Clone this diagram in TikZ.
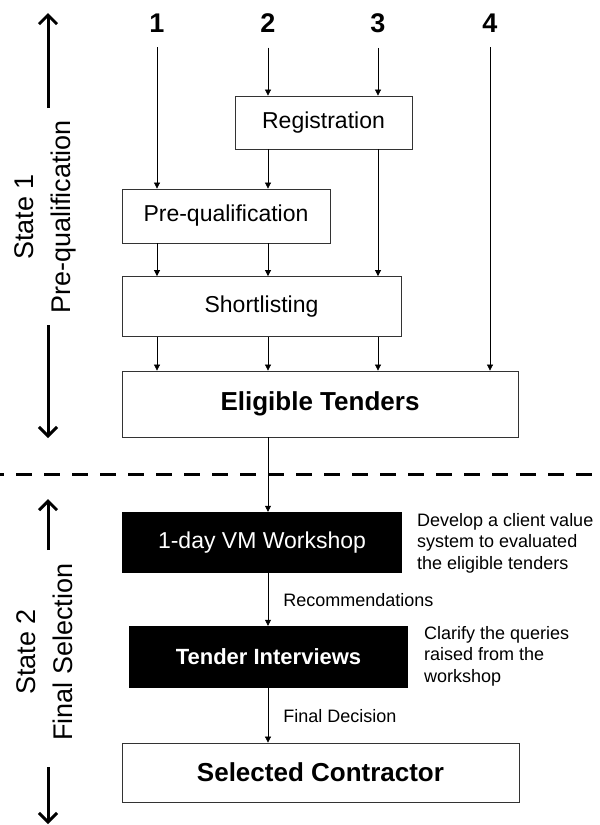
\documentclass[tikz,border=0pt]{standalone}
\usepackage{fontspec}
\setmainfont{Liberation Sans}
\usetikzlibrary{arrows.meta}
\begin{document}
\begin{tikzpicture}[
      x = 1pt, y = -1pt, % pixel units, y grows downwards
      box/.style = {draw=black!80, line width=0.8pt, inner sep=0pt, font=\fontsize{23}{27}\selectfont},
      darkbox/.style = {fill=black, text=white, inner sep=0pt, font=\fontsize{23}{27}\selectfont},
      flow/.style = {-{Triangle[length=6pt, width=6pt]}, line width=0.7pt},
      phase/.style = {-{Straight Barb[length=9pt, width=18pt, line width=3pt]}, line width=3pt},
      note/.style = {anchor=west, align=left, inner sep=0pt, font=\fontsize{18}{21.5}\selectfont},
      side/.style = {rotate=90, align=center, inner sep=0pt, font=\fontsize{27}{37}\selectfont}
  ]

\useasboundingbox (0,0) rectangle (600,825);

% tender routes
\foreach \xx/\num in {157/1, 268/2, 378/3, 490/4}{
    \node[inner sep=0pt, font=\bfseries\fontsize{27}{27}\selectfont] (n\num) at (\xx, 23) {\num};
}

% stage 1 boxes
\node[box, minimum width=177pt, minimum height=53pt] (reg) at (323.5,122.5) {Registration};
\node[box, minimum width=208pt, minimum height=54pt] (prequal) at (226,216) {Pre-qualification};
\node[box, minimum width=279pt, minimum height=60pt] (short) at (261.5,306.5) {Shortlisting};
\node[box, minimum width=396pt, minimum height=66pt, font=\bfseries\fontsize{26}{30}\selectfont] (elig) at (320,404) {Eligible Tenders};

% stage 2 boxes
\node[darkbox, minimum width=280pt, minimum height=61pt] (vm) at (262,542.5) {1-day VM Workshop};
\node[darkbox, minimum width=279pt, minimum height=62pt, font=\bfseries\fontsize{22}{26}\selectfont] (interv) at (268.5,657) {Tender Interviews};
\node[box, minimum width=397pt, minimum height=59pt, font=\bfseries\fontsize{26}{30}\selectfont] (selected) at (320.5,772.5) {Selected Contractor};

\node[note] (vmnote) at (417,543) {Develop a client value\\system to evaluated\\the eligible tenders};
\node[note] (intnote) at (424,656) {Clarify the queries\\raised from the\\workshop};

% connectors
\draw[flow, shorten <=15pt] (n1.south) -- (n1 |- prequal.north);
\foreach \col in {2,3}
    \draw[flow, shorten <=15pt] (n\col.south) -- (n\col |- reg.north);
\draw[flow, shorten <=15pt] (n4.south) -- (n4 |- elig.north);
\draw[flow] (n2 |- reg.south) -- (n2 |- prequal.north);
\draw[flow] (n3 |- reg.south) -- (n3 |- short.north);
\foreach \col in {1,2}
    \draw[flow] (n\col |- prequal.south) -- (n\col |- short.north);
\foreach \col in {1,2,3}
    \draw[flow] (n\col |- short.south) -- (n\col |- elig.north);
\draw[flow] (n2 |- elig.south) -- (n2 |- vm.north);
\draw[flow] (n2 |- vm.south) -- node[note, at start, xshift=15pt, yshift=-27pt] (recom) {Recommendations} (n2 |- interv.north);
\draw[flow] (n2 |- interv.south) -- node[note, at start, xshift=15pt, yshift=-28pt] (decision) {Final Decision} (n2 |- selected.north);

% stage divider
\draw[line width=3pt, dash pattern=on 16pt off 12pt, dash phase=12pt] (0,474) -- (600,474);

% stage labels
\node[side] (state1) at (45,217) {State 1\\Pre-qualification};
\node[side] (state2) at (45,652) {State 2\\Final Selection};
\draw[phase] (48,108) -- (48,13);
\draw[phase] (48,325) -- (48,438);
\draw[phase] (48,550) -- (48,499);
\draw[phase] (48,767) -- (48,824);

\end{tikzpicture}
\end{document}
